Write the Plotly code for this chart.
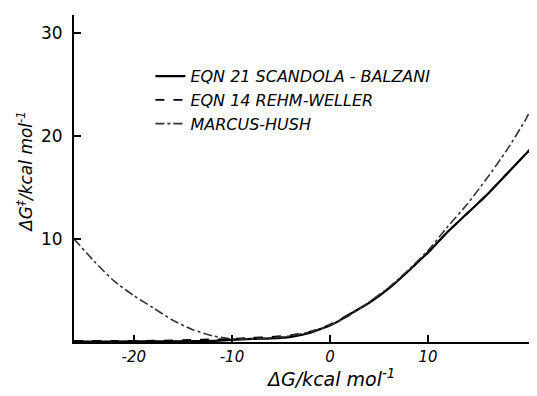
import plotly.graph_objects as go

# Free energy change (kcal/mol) and activation free energies
dg_sb = [-26.1, -22, -18, -14, -12, -10, -8, -6, -4, -2, -1, 0, 1, 2, 4, 6, 8, 9, 10, 12, 14, 16, 18, 20, 21.1]
dgact_sb = [0.05, 0.05, 0.06, 0.08, 0.1, 0.2, 0.3, 0.35, 0.5, 0.9, 1.25, 1.6, 2.1, 2.7, 3.8, 5.2, 6.9, 7.8, 8.7, 10.7, 12.5, 14.3, 16.3, 18.3, 19.4]

dg_rw = [-26.1, -22, -18, -14, -12, -10, -8, -6, -4, -2, -1, 0, 1, 2, 4, 6, 8, 10, 12, 14, 16, 18, 20, 21.1]
dgact_rw = [0.1, 0.1, 0.12, 0.2, 0.25, 0.3, 0.4, 0.5, 0.65, 1.0, 1.3, 1.7, 2.15, 2.7, 3.85, 5.25, 6.9, 8.7, 10.7, 12.5, 14.3, 16.3, 18.3, 19.4]

dg_mh = [-26.1, -24, -22, -20, -18, -16, -14, -12, -10, -8, -6, -4, -2, 0, 2, 4, 6, 8, 10, 12, 14, 16, 18, 20, 21.1]
dgact_mh = [10.0, 7.8, 5.9, 4.5, 3.3, 2.1, 1.2, 0.6, 0.3, 0.3, 0.4, 0.6, 1.0, 1.6, 2.6, 3.9, 5.3, 7.0, 8.9, 11.2, 13.4, 15.9, 18.6, 21.7, 23.9]

names = ["EQN 21 SCANDOLA - BALZANI", "EQN 14 REHM-WELLER", "MARCUS-HUSH"]

x_ticks = [-20, -10, 0, 10]
y_ticks = [10, 20, 30]

font_family = "DejaVu Sans"

fig = go.Figure()
fig.add_trace(go.Scatter(x=dg_sb, y=dgact_sb, mode="lines", name=names[0],
                         line=dict(color="black", width=2.2, dash="solid", shape="spline", smoothing=0.6)))
fig.add_trace(go.Scatter(x=dg_rw, y=dgact_rw, mode="lines", name=names[1],
                         line=dict(color="black", width=1.8, dash="dash", shape="spline", smoothing=0.6)))
fig.add_trace(go.Scatter(x=dg_mh, y=dgact_mh, mode="lines", name=names[2],
                         line=dict(color="#333333", width=1.6, dash="dashdot", shape="spline", smoothing=0.6)))

# The page body adds an 8px margin; the figure is sized to compensate
fig.update_layout(
    width=529, height=388,
    margin=dict(l=66, r=0, t=7, b=54),
    paper_bgcolor="white", plot_bgcolor="white",
    font=dict(family=font_family, color="black", size=14),
    showlegend=True,
    legend=dict(x=0.165, y=0.865, xanchor="left", yanchor="top",
                bgcolor="rgba(0,0,0,0)", borderwidth=0,
                font=dict(size=16, family=font_family, style="italic"),
                tracegroupgap=0),
    xaxis=dict(range=[-26.1, 21.1], showgrid=False, zeroline=False,
               showline=True, linecolor="black", linewidth=2,
               ticks="inside", ticklen=7, tickwidth=1.5, tickcolor="black",
               tickvals=x_ticks, ticktext=[str(v) for v in x_ticks],
               tickfont=dict(size=15, style="italic")),
    yaxis=dict(range=[0, 31.75], showgrid=False, zeroline=False,
               showline=True, linecolor="black", linewidth=2,
               ticks="inside", ticklen=7, tickwidth=1.5, tickcolor="black",
               ticklabelstandoff=6,
               tickvals=y_ticks, ticktext=[str(v) for v in y_ticks],
               tickfont=dict(size=17)),
    annotations=[
        dict(text="ΔG/kcal mol<sup>-1</sup>", xref="x", yref="paper", x=0, y=-0.11,
             xanchor="center", yanchor="middle", showarrow=False,
             font=dict(size=19, style="italic")),
        dict(text="ΔG<sup>‡</sup>/kcal mol<sup>-1</sup>", xref="paper", yref="paper",
             x=-0.078, y=0.52, xanchor="right", yanchor="middle", textangle=-90,
             showarrow=False, font=dict(size=17, style="italic")),
    ],
)

fig.write_html("out.html")
